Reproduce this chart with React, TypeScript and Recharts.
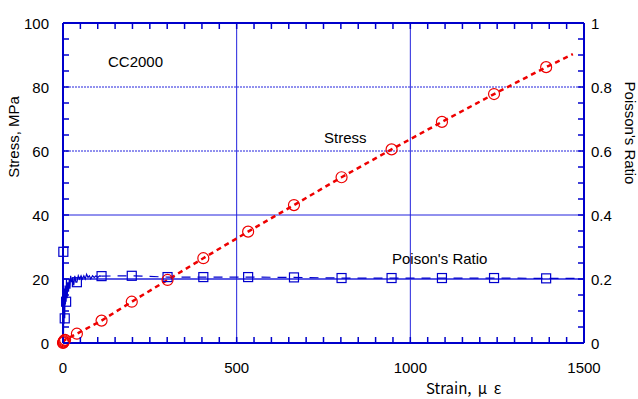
import { ComposedChart, Line, XAxis, YAxis, ReferenceLine } from 'recharts';

// Stress curve (left axis)
const stressStrain = [0, 1, 2, 4, 6, 40, 111, 198, 301, 404, 533, 665, 802, 946, 1091, 1241, 1391, 1468];
const stressValue = [0, 0.2, 0.5, 0.8, 1.0, 2.9, 7.0, 12.9, 19.7, 26.5, 34.8, 43.1, 51.8, 60.5, 69.1, 77.8, 86.2, 90.3];
const stressMarked = [0, 1, 2, 3, 4, 5, 6, 7, 8, 9, 10, 11, 12, 13, 14, 15, 16];

// Poisson's ratio, noisy start (right axis)
const poisEarlyStrain = [0, 0.5, 1, 1.5, 2, 3, 4, 5, 6, 7, 8, 9, 10, 12, 14, 16, 18, 20, 22, 25, 28, 31, 34, 37, 40, 44, 48, 52, 56, 60, 64, 68, 72, 76, 80, 85, 90, 95, 100, 105, 111];
const poisEarlyRatio = [0, 0.58, 0.285, 0.03, 0.12, 0.06, 0.17, 0.077, 0.18, 0.12, 0.16, 0.129, 0.2, 0.14, 0.19, 0.16, 0.2, 0.17, 0.21, 0.19, 0.2, 0.18, 0.21, 0.19, 0.19, 0.21, 0.2, 0.21, 0.2, 0.21, 0.2, 0.215, 0.205, 0.21, 0.2, 0.21, 0.205, 0.21, 0.205, 0.21, 0.209];
const poisEarlyMarked = [2, 7, 11, 24, 40];

// Poisson's ratio, rest
const poisLateStrain = [111, 198, 301, 404, 533, 665, 802, 946, 1091, 1241, 1391, 1475];
const poisLateRatio = [0.209, 0.21, 0.206, 0.206, 0.206, 0.205, 0.203, 0.203, 0.203, 0.203, 0.202, 0.202];
const poisLateMarked = [1, 2, 3, 4, 5, 6, 7, 8, 9, 10];

// axis ticks (minor + major), labels only on majors
const xTicks = [0, 50, 100, 150, 200, 250, 300, 350, 400, 450, 500, 550, 600, 650, 700, 750, 800, 850, 900, 950, 1000, 1050, 1100, 1150, 1200, 1250, 1300, 1350, 1400, 1450, 1500];
const xLabels = [0, 500, 1000, 1500];
const leftTicks = [0, 5, 10, 15, 20, 25, 30, 35, 40, 45, 50, 55, 60, 65, 70, 75, 80, 85, 90, 95, 100];
const leftLabels = [0, 20, 40, 60, 80, 100];
const rightTicks = [0, 0.05, 0.1, 0.15, 0.2, 0.25, 0.3, 0.35, 0.4, 0.45, 0.5, 0.55, 0.6, 0.65, 0.7, 0.75, 0.8, 0.85, 0.9, 0.95, 1];
const rightLabels = [0, 0.2, 0.4, 0.6, 0.8, 1];
const gridY = [20, 40, 60, 80];
const gridX = [500, 1000];

const stressData = stressStrain.map((x, i) => ({ x, v: stressValue[i] }));
const poisEarly = poisEarlyStrain.map((x, i) => ({ x, v: poisEarlyRatio[i] }));
const poisLate = poisLateStrain.map((x, i) => ({ x, v: poisLateRatio[i] }));

const W = 638;
const H = 399;
const P = { left: 63, top: 23, right: 584, bottom: 343 };
const BLUE = '#0000cc';
const GRID = '#2222dd';
const RED = '#ee0000';
const FONT = '"Liberation Sans", Arial, sans-serif';
const TL = 6;
const axisLine = { stroke: BLUE, strokeWidth: 2 };

const isIn = (labels: number[], v: number) => labels.some((l) => Math.abs(l - v) < 1e-9);

const circleDot = (marks: number[]) => (p: any) =>
  marks.includes(p.index) ? (
    <circle key={p.index} cx={p.cx} cy={p.cy} r={5.5} fill="none" stroke={RED} strokeWidth={1.2} />
  ) : (
    <g key={p.index} />
  );

const squareDot = (marks: number[]) => (p: any) =>
  marks.includes(p.index) ? (
    <rect key={p.index} x={p.cx - 4.5} y={p.cy - 4.5} width={9} height={9} fill="none" stroke={BLUE} strokeWidth={1.2} />
  ) : (
    <g key={p.index} />
  );

const BottomTick = (p: any) => (
  <g>
    <path d={`M${p.x},${P.bottom}L${p.x},${P.bottom - TL}`} stroke={BLUE} strokeWidth={1.5} fill="none" />
    {isIn(xLabels, p.payload.value) && (
      <text x={p.x} y={373} textAnchor="middle" fontSize={15} fontFamily={FONT} fill="#000">
        {p.payload.value}
      </text>
    )}
  </g>
);

const TopTick = (p: any) => (
  <path d={`M${p.x},${P.top}L${p.x},${P.top + TL}`} stroke={BLUE} strokeWidth={1.5} fill="none" />
);

const LeftTick = (p: any) => (
  <g>
    <path d={`M${P.left},${p.y}L${P.left + TL},${p.y}`} stroke={BLUE} strokeWidth={1.5} fill="none" />
    {isIn(leftLabels, p.payload.value) && (
      <text x={49} y={p.y + 5.5} textAnchor="end" fontSize={15} fontFamily={FONT} fill="#000">
        {p.payload.value}
      </text>
    )}
  </g>
);

const RightTick = (p: any) => (
  <g>
    <path d={`M${P.right},${p.y}L${P.right - TL},${p.y}`} stroke={BLUE} strokeWidth={1.5} fill="none" />
    {isIn(rightLabels, p.payload.value) && (
      <text x={591} y={p.y + 5.5} textAnchor="start" fontSize={15} fontFamily={FONT} fill="#000">
        {String(p.payload.value)}
      </text>
    )}
  </g>
);

const txt = (s: any): any => ({ position: 'absolute', fontFamily: FONT, fontSize: 15, color: '#000', whiteSpace: 'nowrap', lineHeight: 1, ...s });

export default function App() {
  return (
    <div style={{ position: 'absolute', left: 0, top: 0, width: W, height: H, background: '#fff' }}>
      <ComposedChart
        width={W}
        height={H}
        margin={{ top: P.top - 20, left: P.left - 60, right: W - P.right - 50, bottom: H - P.bottom - 30 }}
      >
        <XAxis
          xAxisId="b"
          dataKey="x"
          type="number"
          domain={[0, 1500]}
          ticks={xTicks}
          interval={0}
          height={30}
          tickLine={false}
          axisLine={axisLine}
          tick={BottomTick}
        />
        <XAxis
          xAxisId="t"
          orientation="top"
          dataKey="x"
          type="number"
          domain={[0, 1500]}
          ticks={xTicks}
          interval={0}
          height={20}
          tickLine={false}
          axisLine={axisLine}
          tick={TopTick}
        />
        <YAxis
          yAxisId="l"
          type="number"
          domain={[0, 100]}
          ticks={leftTicks}
          interval={0}
          width={60}
          tickLine={false}
          axisLine={axisLine}
          tick={LeftTick}
        />
        <YAxis
          yAxisId="r"
          orientation="right"
          type="number"
          domain={[0, 1]}
          ticks={rightTicks}
          interval={0}
          width={50}
          tickLine={false}
          axisLine={axisLine}
          tick={RightTick}
        />
        {gridX.map((g) => (
          <ReferenceLine key={'x' + g} xAxisId="b" yAxisId="l" x={g} stroke={GRID} strokeWidth={1} />
        ))}
        {gridY.map((g) => (
          <ReferenceLine
            key={'y' + g}
            xAxisId="b"
            yAxisId="l"
            y={g}
            stroke={GRID}
            strokeWidth={g === 20 ? 1.5 : 1}
            strokeDasharray={g >= 60 ? '2 1' : undefined}
          />
        ))}
        <Line
          xAxisId="b"
          yAxisId="r"
          data={poisEarly}
          dataKey="v"
          type="linear"
          stroke={BLUE}
          strokeWidth={1.2}
          dot={squareDot(poisEarlyMarked)}
          activeDot={false}
          isAnimationActive={false}
        />
        <Line
          xAxisId="t"
          yAxisId="r"
          data={poisLate}
          dataKey="v"
          type="linear"
          stroke={BLUE}
          strokeWidth={1.2}
          strokeDasharray="9 7"
          dot={squareDot(poisLateMarked)}
          activeDot={false}
          isAnimationActive={false}
        />
        <Line
          xAxisId="b"
          yAxisId="l"
          data={stressData}
          dataKey="v"
          type="linear"
          stroke={RED}
          strokeWidth={2.5}
          strokeDasharray="5 4"
          dot={circleDot(stressMarked)}
          activeDot={false}
          isAnimationActive={false}
        />
      </ComposedChart>
      <div style={txt({ left: 108, top: 54 })}>CC2000</div>
      <div style={txt({ left: 324, top: 130 })}>Stress</div>
      <div style={txt({ left: 392, top: 251 })}>Poison's Ratio</div>
      <div style={txt({ left: 426, top: 380, fontFamily: '"Noto Sans CJK JP", sans-serif', fontSize: 15, wordSpacing: 3 })}>Strain, μ ε</div>
      <div
        style={txt({
          left: 13,
          top: 137,
          transform: 'translate(-50%, -50%) rotate(-90deg)',
        })}
      >
        Stress, MPa
      </div>
      <div
        style={txt({
          left: 630,
          top: 133,
          transform: 'translate(-50%, -50%) rotate(90deg)',
        })}
      >
        Poisson's Ratio
      </div>
    </div>
  );
}
